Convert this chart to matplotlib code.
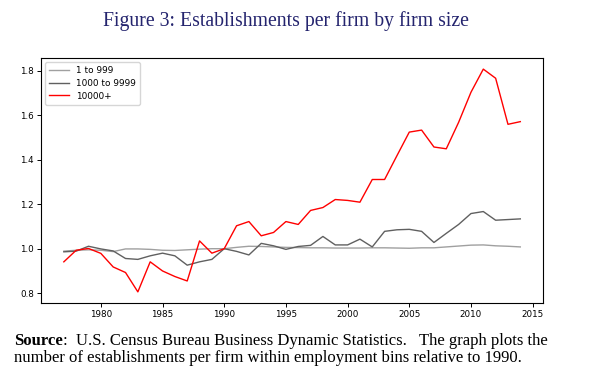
import matplotlib
matplotlib.use("Agg")
import matplotlib.pyplot as plt

## DATA ##
years = list(range(1977, 2015))

# 1 to 999 employees
small = [0.989, 0.993, 0.995, 0.993, 0.987, 0.999, 0.999, 0.997, 0.993, 0.992,
         0.995, 0.998, 1.000, 1.000, 1.006, 1.011, 1.010, 1.008, 1.006, 1.005,
         1.004, 1.004, 1.003, 1.003, 1.003, 1.004, 1.004, 1.003, 1.002, 1.004,
         1.004, 1.008, 1.012, 1.016, 1.017, 1.013, 1.011, 1.008]

# 1000 to 9999 employees
mid = [0.986, 0.989, 1.011, 0.999, 0.990, 0.956, 0.952, 0.968, 0.980, 0.968,
       0.926, 0.941, 0.952, 1.000, 0.988, 0.972, 1.024, 1.013, 0.997, 1.010,
       1.015, 1.055, 1.017, 1.017, 1.043, 1.008, 1.078, 1.085, 1.087, 1.078,
       1.028, 1.069, 1.109, 1.158, 1.167, 1.128, 1.131, 1.134]

# 10000+ employees
large = [0.941, 0.993, 1.001, 0.979, 0.918, 0.893, 0.806, 0.941, 0.900, 0.875,
         0.855, 1.035, 0.980, 1.000, 1.103, 1.122, 1.058, 1.073, 1.122, 1.109,
         1.172, 1.185, 1.221, 1.217, 1.209, 1.311, 1.311, 1.418, 1.524, 1.533,
         1.457, 1.449, 1.568, 1.703, 1.807, 1.766, 1.559, 1.571]

series_labels = ["1 to 999", "1000 to 9999", "10000+"]

title = "Figure 3: Establishments per firm by firm size"
cap_bold = "Source"
cap_line1 = ":  U.S. Census Bureau Business Dynamic Statistics.   The graph plots the"
cap_line2 = "number of establishments per firm within employment bins relative to 1990."

## PLOT ##
fig = plt.figure(figsize=(5.96, 3.79), dpi=100)
ax = fig.add_axes([0.0688, 0.2005, 0.8425, 0.6465])

ax.plot(years, small, color="#a0a0a0", lw=1.0, label=series_labels[0])
ax.plot(years, mid, color="#606060", lw=1.0, label=series_labels[1])
ax.plot(years, large, color="red", lw=1.0, label=series_labels[2])

ax.tick_params(labelsize=6.3, length=3, width=0.7, pad=2)
for s in ax.spines.values():
    s.set_linewidth(0.8)
ax.legend(loc="upper left", fontsize=6.4, handlelength=2.2, borderpad=0.45,
          labelspacing=0.4)

serif = ["Liberation Serif", "DejaVu Serif"]
fig.text(0.48, 0.945, title, ha="center", va="center", fontsize=14.2,
         family=serif, color="#24246e")

# caption: bold lead word, then rest of line right after it
fig.canvas.draw()
r = fig.canvas.get_renderer()
x0 = 14 / 596
t = fig.text(x0, 0.090, cap_bold, fontsize=12, family=serif, weight="bold",
             va="baseline")
bb = t.get_window_extent(r)
fig.text(bb.x1 / fig.bbox.width, 0.090, cap_line1, fontsize=12, family=serif,
         va="baseline")
fig.text(x0, 0.046, cap_line2, fontsize=12, family=serif, va="baseline")

fig.savefig("out.png", dpi=100)
